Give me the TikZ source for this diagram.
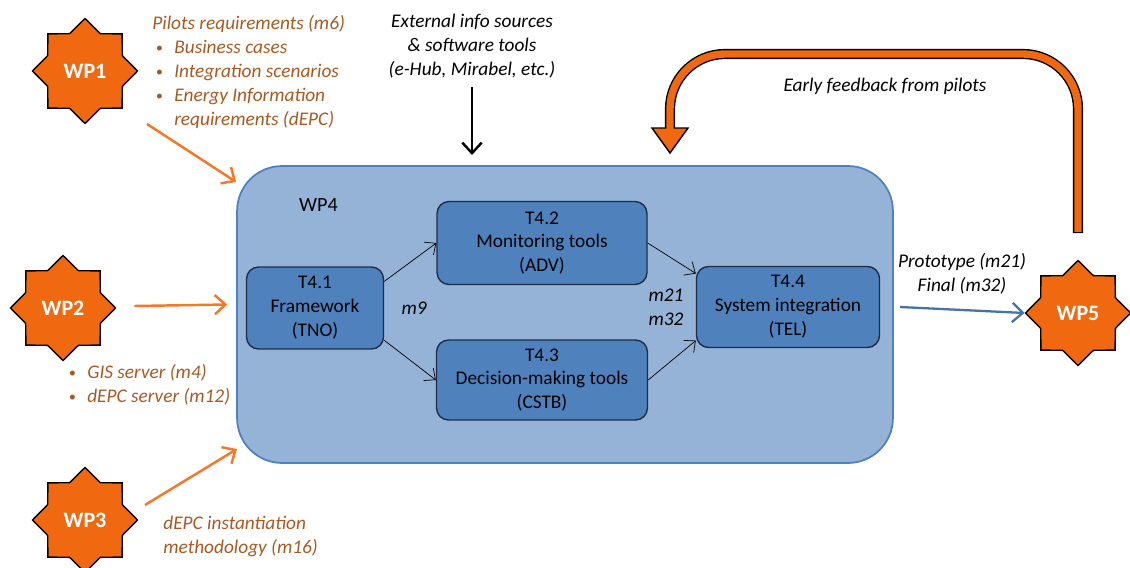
\documentclass[tikz,border=0pt]{standalone}
\usepackage{fontspec}
\setmainfont{Carlito}
\usetikzlibrary{shapes.geometric,positioning,arrows.meta,calc}

\definecolor{wporange}{RGB}{240,104,16}
\definecolor{arrorange}{RGB}{245,120,40}
\definecolor{wptext}{RGB}{168,90,36}
\definecolor{wpfill}{RGB}{149,179,215}
\definecolor{wpline}{RGB}{79,129,189}
\definecolor{taskfill}{RGB}{79,129,189}
\definecolor{taskline}{RGB}{30,45,70}
\definecolor{outblue}{RGB}{68,114,170}

\newcommand{\bitem}{\hspace*{2pt}\makebox[10.5pt][l]{\raisebox{0.6pt}{\fontsize{8}{8}\selectfont\textbullet}}}

\begin{document}
\begin{tikzpicture}[
        x=0.02cm,
        y=-0.02cm,
        font=\fontsize{11}{13.6}\selectfont,
        wp/.style={
            star,
            star points=8,
            star point ratio=1.3,
            draw=black,
            thick,
            fill=wporange,
            minimum size=2.1cm,
            inner sep=0pt,
            text=white,
            font=\fontsize{12.5}{15}\selectfont\bfseries,
        },
        task/.style={
            rectangle,
            rounded corners=0.24cm,
            draw=taskline,
            thick,
            fill=taskfill,
            align=center,
        },
        wpbox/.style={
            rectangle,
            rounded corners=0.9cm,
            draw=wpline,
            line width=1pt,
            fill=wpfill,
            minimum width=13.12cm,
            minimum height=5.94cm,
        },
        note/.style={
            text=wptext,
            font=\fontsize{11}{13.6}\selectfont\itshape,
            align=left,
            inner sep=0pt,
        },
        lbl/.style={
            font=\fontsize{11}{13.6}\selectfont\itshape,
            align=center,
            inner sep=0pt,
        },
        flow/.style={
            -{Straight Barb[length=5pt,width=9pt]},
            thin,
        },
        input/.style={
            -{Straight Barb[length=6pt,width=11pt]},
            arrorange,
            line width=1.4pt,
        },
    ]
        \useasboundingbox (0,0) rectangle (1130,568);

        \node [wpbox] (wp4) at (565,314.5) {};
        \node [anchor=west, font=\fontsize{11.5}{14}\selectfont] (wp4lbl) at (293,205) {WP4};

        \node [task, minimum width=2.74cm, minimum height=1.64cm] (t41) at (315,308) {T4.1\\Framework\\(TNO)};
        \node [task, minimum width=4.2cm, minimum height=1.66cm] (t42) at (542,243) {T4.2\\Monitoring tools\\(ADV)};
        \node [task, minimum width=4.22cm, minimum height=1.6cm] (t43) at (542,380) {T4.3\\Decision-making tools\\(CSTB)};
        \node [task, minimum width=3.66cm, minimum height=1.62cm] (t44) at (788,307) {T4.4\\System integration\\(TEL)};

        \draw [flow] (t41.21) -- (t42.west);
        \draw [flow] (t41.-25) -- (t43.west);
        \draw [flow] (t42.east) -- (t44.160);
        \draw [flow] (t43.east) -- (t44.200);

        \node [lbl, right=0.34cm of t41] (m9) {m9};
        \node [lbl, left=0.24cm of t44] (m21) {m21\\m32};

        \node [wp] (wp1) at (85,71) {WP1};
        \node [wp] (wp2) at (63,308) {WP2};
        \node [wp] (wp3) at (85,520) {WP3};
        \node [wp] (wp5) at (1078,313) {WP5};

        \node [note, anchor=north west] (wp1txt) at (152,15.5) {Pilots requirements (m6)\\
            \bitem Business cases\\
            \bitem Integration scenarios\\
            \bitem Energy Information\\
            \hspace*{12.5pt}requirements (dEPC)};
        \node [note, anchor=north west] (wp2txt) at (65,364) {\bitem GIS server (m4)\\
            \bitem dEPC server (m12)};
        \node [note, anchor=north west] (wp3txt) at (163,516) {dEPC instantiation\\
            methodology (m16)};

        \coordinate (wp1out) at (147,124);
        \coordinate (wp3out) at (145,505);
        \draw [input] (wp1out) -- (wp4.north west |- 0,182);
        \draw [input] (wp2.east) ++(18,-2) coordinate (wp2out) -- ($(wp4.west)+(-9,-10)$);
        \draw [input] (wp3out) -- (237,449);

        \node [lbl] (ext) at (472,46) {External info sources\\\& software tools\\(e-Hub, Mirabel, etc.)};
        \draw [-{Straight Barb[length=6pt,width=11pt]}, line width=1.4pt] (ext.south) ++(0,9) -- (472,155);

        \node [lbl] (proto) at (962,274) {Prototype (m21)\\Final (m32)};
        \draw [-{Straight Barb[length=6pt,width=11pt]}, outblue, line width=1.3pt] (900,307) -- (wp5.west);

        \coordinate (fbstart) at (1078,233);
        \coordinate (fbtip) at (670,153);
        \draw [line width=5.8pt, rounded corners=1.1cm] (fbstart) -- (1078,54) -- (670,54) -- (670,128);
        \filldraw [fill=wporange, draw=black, line width=0.8pt] ($(fbtip)+(-18,-25)$) -- (fbtip) -- ($(fbtip)+(18,-25)$) -- cycle;
        \draw [wporange, line width=4.2pt, rounded corners=1.1cm, shorten <=0.7pt] (fbstart) -- (1078,54) -- (670,54) -- (670,130);
        \node [lbl] (fblbl) at (885,86) {Early feedback from pilots};
    \end{tikzpicture}
\end{document}
